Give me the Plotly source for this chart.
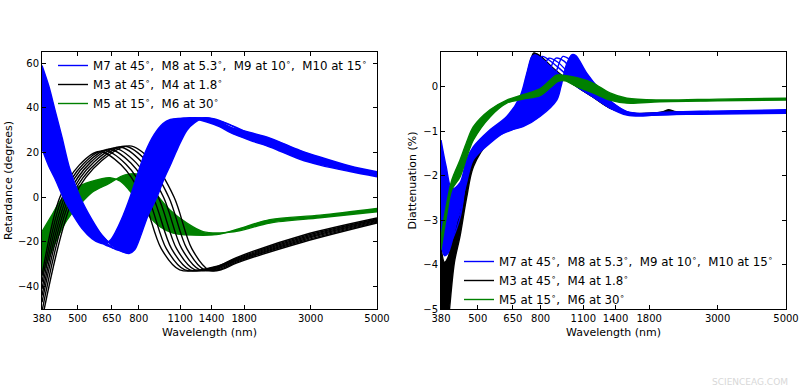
import math
import plotly.graph_objects as go

# ---------------- data ----------------
wl_ticks = [380, 500, 650, 800, 1100, 1400, 1800, 3000, 5000]
ret_ticks = [-40, -20, 0, 20, 40, 60]
dia_ticks = [-5, -4, -3, -2, -1, 0]

leg_blue = "M7 at 45<sup>∘</sup>,\u00a0 M8 at 5.3<sup>∘</sup>,\u00a0 M9 at 10<sup>∘</sup>,\u00a0 M10 at 15<sup>∘</sup>"
leg_black = "M3 at 45<sup>∘</sup>,\u00a0 M4 at 1.8<sup>∘</sup>"
leg_green = "M5 at 15<sup>∘</sup>,\u00a0 M6 at 30<sup>∘</sup>"

# Retardance (degrees) -- blue group M7..M10 (first and second curve bound the band)
ret_blue_wl = [
    [380, 400, 420, 447, 468, 517, 558, 589, 617, 645, 666, 700, 748, 800, 840, 900, 964, 1020, 1082, 1233, 1494, 1614, 1882, 2195, 2765, 3223, 4062, 5000],
    [380, 400, 420, 443, 470, 510, 558, 603, 650, 700, 742, 775, 808, 860, 920, 970, 1017, 1080, 1159, 1233, 1311, 1400, 1494, 1614, 1882, 2195, 2765, 3223, 4062, 5000],
    [380, 400, 425, 455, 490, 540, 590, 640, 690, 730, 778, 830, 880, 940, 1010, 1130, 1300, 1494, 1882, 2195, 2765, 3223, 4062, 5000],
    [380, 400, 430, 468, 505, 550, 610, 665, 715, 760, 810, 860, 915, 975, 1050, 1180, 1350, 1550, 1882, 2195, 2765, 3223, 4062, 5000],
    [380, 400, 435, 480, 520, 565, 625, 690, 740, 790, 845, 895, 950, 1010, 1090, 1230, 1400, 1600, 1882, 2195, 2765, 3223, 4062, 5000],
    [380, 400, 440, 494, 535, 580, 640, 715, 770, 825, 882, 935, 990, 1050, 1130, 1280, 1420, 1614, 1882, 2195, 2765, 3223, 4062, 5000],
]
ret_blue_val = [
    [21.7, 14, 8.3, 0, -5, -14, -18.5, -20.3, -20.8, -19, -16, -10, 0, 12, 20, 28, 33, 34.8, 35.3, 35, 31.5, 29, 25.5, 22.5, 17, 14.4, 11.5, 9.2],
    [59, 50, 39, 27, 13, 0, -10, -17, -21.5, -24.2, -25.2, -23.5, -18, -8, 0, 8, 14, 22, 30, 33.5, 35.3, 35.2, 33.8, 31.4, 29, 26.5, 21, 18, 14, 11.4],
    [29, 20, 10, 0, -7.5, -14.5, -19.5, -22, -18.5, -11, 0, 11, 20, 28, 33, 35.4, 35, 32, 26, 23.3, 18, 15.2, 12, 9.7],
    [36, 27, 15, 0, -8, -14.5, -20, -23, -19.5, -11, 0, 10, 20, 28, 33, 35.4, 35, 32.5, 27, 24.3, 19, 16.2, 12.8, 10.2],
    [44, 35, 20, 0, -8, -14.5, -20.5, -23.8, -20, -11, 0, 10, 20, 28, 33, 35.4, 35, 32.5, 28, 25.4, 20, 17, 13.4, 10.7],
    [51, 43, 26, 0, -8, -14.5, -20.5, -24.5, -20.5, -11, 0, 10, 19, 27, 32.5, 35.4, 35.2, 32.5, 28.5, 26, 20.5, 17.5, 13.7, 11],
]

# Retardance -- black group M3, M4
ret_black_wl = [
    [380, 436, 507, 590, 698, 825, 951, 1096, 1450, 1695, 2835, 5000],
    [380, 444, 521, 612, 725, 858, 989, 1140, 1450, 1695, 2835, 5000],
    [380, 452, 536, 636, 754, 893, 1029, 1185, 1450, 1695, 2835, 5000],
    [380, 460, 551, 660, 783, 930, 1070, 1232, 1450, 1695, 2835, 5000],
    [380, 468, 568, 690, 817, 968, 1113, 1280, 1470, 1695, 2835, 5000],
    [380, 476, 585, 718, 851, 1008, 1158, 1330, 1500, 1695, 2835, 5000],
    [380, 485, 601, 745, 885, 1050, 1203, 1378, 1520, 1695, 2835, 5000],
]
ret_black_val = [
    [-35, 0, 14.5, 20.5, 14.5, 0, -23, -32.5, -31.0, -27.0, -17.0, -9.3],
    [-38, 0, 14.8, 21.0, 14.8, 0, -23, -32.5, -31.2, -27.4, -17.5, -9.7],
    [-41, 0, 15.2, 21.5, 15.2, 0, -23, -32.5, -31.5, -27.8, -18.0, -10.0],
    [-44, 0, 15.5, 22.0, 15.5, 0, -23, -32.5, -31.8, -28.2, -18.5, -10.4],
    [-47, 0, 15.9, 22.5, 15.9, 0, -23, -32.5, -32.0, -28.6, -19.0, -10.8],
    [-51, 0, 16.1, 22.8, 16.1, 0, -23, -32.6, -32.2, -29.0, -19.5, -11.1],
    [-55, 0, 16.3, 23.0, 16.3, 0, -23, -32.7, -32.3, -29.5, -20.0, -11.5],
]

# Retardance -- green group M5, M6 (band edges)
ret_green_wl = [
    [380, 410, 443, 517, 603, 641, 694, 740, 800, 850, 942, 1041, 1311, 1494, 1733, 2195, 3223, 5000],
    [380, 410, 443, 479, 517, 558, 635, 720, 820, 893, 1017, 1159, 1311, 1494, 1733, 2195, 3223, 5000],
]
ret_green_val = [
    [-15.4, -8, -0.8, 5.5, 8.3, 8.7, 7.2, 3.5, -2, -7.2, -13.2, -16, -17, -16.5, -14, -10, -8, -5],
    [-35, -24, -14, -7, -2.2, 2.2, 6.1, 10, 9.8, 3.3, -5.7, -11.6, -15.4, -16, -15, -11.5, -9.2, -6.5],
]

# Diattenuation (%) -- blue group
dia_blue_wl = [
    [380, 395, 412, 438, 460, 484, 548, 621, 686, 721, 748, 767, 800, 910, 1049, 1182, 1342, 1524, 1718, 1950, 2628, 3544, 5000],
    [380, 390, 400, 427, 460, 484, 548, 621, 701, 796, 902, 931, 970, 1011, 1040, 1130, 1246, 1373, 1524, 1680, 1950, 2628, 3544, 5000],
    [380, 400, 438, 460, 484, 548, 620, 667, 710, 744, 775, 808, 870, 960, 1122, 1300, 1480, 1718, 2628, 5000],
    [380, 402, 438, 460, 484, 548, 640, 699, 745, 784, 815, 851, 910, 990, 1156, 1330, 1500, 1718, 2628, 5000],
    [380, 404, 438, 460, 484, 548, 660, 732, 780, 826, 860, 897, 950, 1020, 1182, 1350, 1510, 1718, 2628, 5000],
    [380, 405, 438, 460, 484, 548, 680, 767, 820, 871, 905, 945, 990, 1060, 1218, 1370, 1520, 1718, 2628, 5000],
]
dia_blue_val = [
    [-1.2, -1.8, -2.3, -2.16, -1.64, -1.35, -0.97, -0.67, -0.22, 0.3, 0.67, 0.72, 0.65, 0.3, 0.0, -0.23, -0.48, -0.64, -0.66, -0.63, -0.62, -0.61, -0.6],
    [-3.5, -3.8, -3.75, -3.06, -2.16, -1.64, -1.27, -1.0, -0.9, -0.67, -0.3, 0.0, 0.5, 0.72, 0.7, 0.3, -0.07, -0.37, -0.56, -0.6, -0.58, -0.55, -0.54, -0.52],
    [-1.6, -2.6, -2.3, -1.75, -1.4, -1.03, -0.8, -0.67, -0.3, 0.0, 0.45, 0.68, 0.55, 0.3, -0.07, -0.4, -0.58, -0.64, -0.6, -0.57],
    [-2.1, -2.9, -2.6, -1.85, -1.5, -1.1, -0.85, -0.67, -0.3, 0.0, 0.4, 0.64, 0.55, 0.3, -0.07, -0.4, -0.58, -0.62, -0.58, -0.56],
    [-2.6, -3.2, -2.85, -1.95, -1.55, -1.15, -0.88, -0.67, -0.3, 0.0, 0.4, 0.64, 0.58, 0.35, -0.07, -0.38, -0.57, -0.62, -0.58, -0.55],
    [-3.1, -3.5, -2.95, -2.05, -1.6, -1.2, -0.9, -0.67, -0.3, 0.0, 0.4, 0.68, 0.62, 0.4, -0.07, -0.37, -0.56, -0.62, -0.57, -0.54],
]

# Diattenuation -- black group (first and second curve bound the dark wedge)
dia_black_wl = [
    [380, 390, 400, 420, 438, 460, 484, 548, 621, 690, 730, 760, 790, 850, 940, 1100, 1300, 1500, 1800, 2000, 2080, 2200, 2628, 5000],
    [380, 392, 400, 405, 420, 438, 460, 484, 548, 621, 700, 740, 775, 810, 910, 1049, 1182, 1342, 1550, 1800, 2628, 5000],
    [380, 392, 405, 420, 438, 460, 484, 548, 621, 690, 735, 770, 800, 910, 1049, 1182, 1342, 1520, 1800, 2628, 5000],
]
dia_black_val = [
    [-3.6, -3.95, -3.85, -3.2, -2.7, -2.0, -1.5, -1.05, -0.8, -0.3, 0.4, 0.76, 0.7, 0.5, 0.25, -0.05, -0.4, -0.58, -0.6, -0.56, -0.52, -0.56, -0.57, -0.55],
    [-5.3, -5.6, -5.4, -5.0, -3.95, -3.36, -2.5, -1.8, -1.2, -0.9, -0.5, 0.3, 0.72, 0.65, 0.3, 0.0, -0.23, -0.48, -0.6, -0.6, -0.57, -0.55],
    [-4.3, -4.9, -4.6, -3.6, -3.0, -2.2, -1.6, -1.1, -0.85, -0.4, 0.3, 0.74, 0.68, 0.3, 0.0, -0.23, -0.48, -0.6, -0.6, -0.57, -0.55],
]

# Diattenuation -- green group (band edges)
dia_green_wl = [
    [380, 395, 412, 438, 460, 484, 548, 621, 700, 796, 860, 900, 940, 1049, 1182, 1342, 1524, 1950, 3000, 5000],
    [380, 395, 412, 438, 460, 484, 548, 621, 700, 796, 860, 910, 960, 1049, 1182, 1342, 1524, 1950, 3000, 5000],
]
dia_green_val = [
    [-3.4, -2.7, -2.1, -1.65, -1.25, -0.9, -0.52, -0.3, -0.18, -0.05, 0.15, 0.26, 0.26, 0.2, 0.08, -0.14, -0.26, -0.3, -0.28, -0.26],
    [-3.67, -2.95, -2.32, -2.03, -1.6, -1.2, -0.68, -0.37, -0.28, -0.2, -0.02, 0.12, 0.13, 0.0, -0.14, -0.3, -0.37, -0.34, -0.32, -0.3],
]

BLUE = "#0000ff"
BLACK = "#000000"
GREEN = "#008000"
FONT = "DejaVu Sans"

fig = go.Figure()


def add_group(wls, vals, color, xa, ya, legend, name, rank, fill_band, width=1.4):
    for i, (w, v) in enumerate(zip(wls, vals)):
        tr = dict(
            x=w, y=v, mode="lines", xaxis=xa, yaxis=ya,
            line=dict(color=color, width=width, shape="spline", smoothing=0.9),
            name=name, legend=legend, legendrank=rank,
            showlegend=(i == 0), hoverinfo="skip",
        )
        if fill_band and i == 1:
            tr["fill"] = "tonexty"
            tr["fillcolor"] = color
        fig.add_trace(go.Scatter(**tr))


# left panel: retardance
add_group(ret_green_wl, ret_green_val, GREEN, "x", "y", "legend", leg_green, 3, True)
add_group(ret_black_wl, ret_black_val, BLACK, "x", "y", "legend", leg_black, 2, False)
add_group(ret_blue_wl, ret_blue_val, BLUE, "x", "y", "legend", leg_blue, 1, True)

# right panel: diattenuation
add_group(dia_black_wl, dia_black_val, BLACK, "x2", "y2", "legend2", leg_black, 2, True)
add_group(dia_blue_wl, dia_blue_val, BLUE, "x2", "y2", "legend2", leg_blue, 1, True)
add_group(dia_green_wl, dia_green_val, GREEN, "x2", "y2", "legend2", leg_green, 3, True)

W, H = 800, 391
ydom = [1 - 309 / H, 1 - 52 / H]

axis_common = dict(
    showline=True, linecolor="black", linewidth=1, mirror="allticks",
    ticks="inside", ticklen=4, tickwidth=1, tickcolor="black",
    showgrid=False, zeroline=False, automargin=False,
    tickfont=dict(family=FONT, size=10, color="black"),
    title_font=dict(family=FONT, size=11, color="black"),
)

xr = [math.log10(380), math.log10(5000)]

leg_common = dict(xanchor="left", yanchor="top", bgcolor="rgba(0,0,0,0)", borderwidth=0,
                  itemwidth=30, traceorder="normal", tracegroupgap=0,
                  font=dict(family=FONT, size=11.8, color="black"))

fig.update_layout(
    width=W, height=H,
    margin=dict(l=0, r=0, t=0, b=0, autoexpand=False),
    paper_bgcolor="white", plot_bgcolor="white",
    font=dict(family=FONT, size=11, color="black"),
    xaxis=dict(axis_common, type="log", range=xr, domain=[42 / W, 377 / W], anchor="y",
               tickvals=wl_ticks, ticktext=[str(t) for t in wl_ticks],
               title=dict(text="Wavelength (nm)", standoff=5)),
    yaxis=dict(axis_common, range=[-50, 65], domain=ydom, anchor="x",
               tickvals=ret_ticks, title=dict(text="Retardance (degrees)", standoff=3)),
    xaxis2=dict(axis_common, type="log", range=xr, domain=[441 / W, 786 / W], anchor="y2",
                tickvals=wl_ticks, ticktext=[str(t) for t in wl_ticks],
                title=dict(text="Wavelength (nm)", standoff=5)),
    yaxis2=dict(axis_common, range=[-5, 0.78], domain=ydom, anchor="x2",
                tickvals=dia_ticks, title=dict(text="Diattenuation (%)", standoff=4)),
    legend=dict(leg_common, x=53 / W, y=1 - 51 / H),
    legend2=dict(leg_common, x=459 / W, y=1 - 247 / H),
    annotations=[dict(text="SCIENCEAG.COM", x=790 / W, y=1 - 382 / H, xref="paper", yref="paper",
                      xanchor="right", yanchor="middle", showarrow=False,
                      font=dict(family=FONT, size=9, color="#d8d8d8"))],
)

fig.write_html("out.html", config={"displayModeBar": False},
               post_script="document.body.style.margin='0';document.body.style.overflow='hidden';")
